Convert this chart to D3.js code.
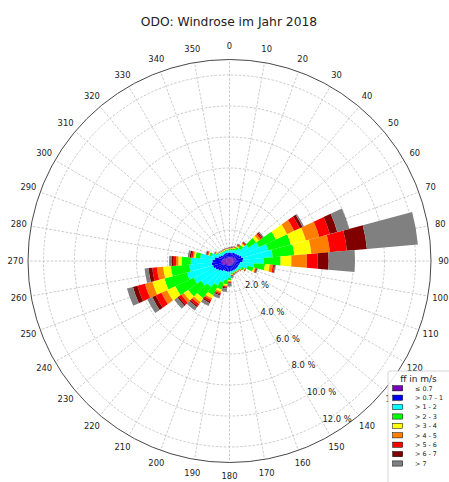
<!DOCTYPE html>
<html>
<head>
<meta charset="utf-8">
<script src="https://cdn.jsdelivr.net/npm/d3@7"></script>
<style>
  body { margin: 0; background: #fff; }
  svg { display: block; font-family: "DejaVu Sans", sans-serif; }
</style>
</head>
<body>
<div id="chart"></div>
<script>
(function () {
  var title = 'ODO: Windrose im Jahr 2018';
  var directions = [0, 10, 20, 30, 40, 50, 60, 70, 80, 90, 100, 110, 120, 130, 140, 150, 160, 170,
                    180, 190, 200, 210, 220, 230, 240, 250, 260, 270, 280, 290, 300, 310, 320, 330, 340, 350];
  var classLabels = ['\u2264 0.7', '> 0.7 - 1', '> 1 - 2', '> 2 - 3', '> 3 - 4', '> 4 - 5', '> 5 - 6', '> 6 - 7', '> 7'];
  var classColors = ['#7400b8', '#0000f0', '#00ffff', '#00ff00', '#ffff00', '#ff8000', '#ff0000', '#800000', '#808080'];
  var radialTicks = [2, 4, 6, 8, 10, 12];

  // frequency in % per direction (0..350) for each wind speed class
  var f_le07 = [0.25, 0.25, 0.25, 0.3, 0.3, 0.3, 0.35, 0.4, 0.4, 0.35, 0.3, 0.3, 0.3, 0.3, 0.3, 0.3, 0.3, 0.3,
                0.3, 0.3, 0.3, 0.3, 0.35, 0.4, 0.45, 0.5, 0.55, 0.5, 0.45, 0.35, 0.3, 0.25, 0.25, 0.25, 0.25, 0.25];
  var f_07_1 = [0.3, 0.3, 0.3, 0.3, 0.3, 0.35, 0.35, 0.4, 0.5, 0.5, 0.4, 0.35, 0.35, 0.35, 0.35, 0.35, 0.35, 0.35,
                0.4, 0.4, 0.4, 0.4, 0.45, 0.5, 0.55, 0.6, 0.6, 0.6, 0.5, 0.4, 0.35, 0.3, 0.3, 0.3, 0.3, 0.3];
  var f_1_2 = [0.15, 0.17, 0.2, 0.25, 0.4, 0.85, 1.4, 1.8, 1.9, 1.35, 0.9, 0.55, 0.25, 0.15, 0.1, 0.1, 0.1, 0.15,
               0.4, 0.55, 0.75, 1.05, 1.25, 1.35, 1.55, 1.75, 1.45, 1.4, 0.95, 0.45, 0.25, 0.2, 0.15, 0.15, 0.15, 0.15];
  var f_2_3 = [0.07, 0.08, 0.1, 0.15, 0.25, 0.6, 1.2, 1.5, 1.4, 1.1, 0.7, 0.4, 0.15, 0.07, 0.05, 0.05, 0.05, 0.07,
               0.15, 0.25, 0.45, 0.7, 0.9, 1.0, 1.3, 1.5, 1.2, 0.6, 0.3, 0.15, 0.07, 0.05, 0.05, 0.05, 0.05, 0.05];
  var f_3_4 = [0.03, 0.03, 0.05, 0.07, 0.1, 0.2, 0.8, 1.0, 1.1, 0.7, 0.3, 0.1, 0.05, 0.03, 0.03, 0.02, 0.02, 0.03,
               0.05, 0.1, 0.15, 0.2, 0.3, 0.35, 0.6, 0.8, 0.5, 0.2, 0.1, 0.05, 0.03, 0.03, 0.03, 0.03, 0.03, 0.03];
  var f_4_5 = [0.02, 0.03, 0.03, 0.05, 0.07, 0.15, 0.5, 0.9, 1.2, 1.0, 0.2, 0.05, 0.03, 0.02, 0.02, 0.02, 0.02, 0.02,
               0.05, 0.05, 0.1, 0.12, 0.15, 0.2, 0.4, 0.5, 0.4, 0.15, 0.08, 0.05, 0.03, 0.02, 0.02, 0.02, 0.02, 0.02];
  var f_5_6 = [0.02, 0.02, 0.03, 0.04, 0.06, 0.1, 0.4, 0.7, 1.1, 0.7, 0.1, 0.05, 0.03, 0.02, 0.02, 0.02, 0.02, 0.03,
               0.05, 0.07, 0.08, 0.13, 0.15, 0.2, 0.4, 0.5, 0.3, 0.15, 0.1, 0.05, 0.03, 0.02, 0.02, 0.02, 0.02, 0.02];
  var f_6_7 = [0.02, 0.02, 0.02, 0.04, 0.04, 0.07, 0.2, 0.5, 1.3, 0.7, 0.05, 0.05, 0.02, 0.01, 0.01, 0.01, 0.02, 0.03,
               0.05, 0.06, 0.07, 0.1, 0.1, 0.1, 0.25, 0.3, 0.25, 0.15, 0.1, 0.05, 0.02, 0.01, 0.01, 0.01, 0.01, 0.01];
  var f_gt7 = [0.04, 0.05, 0.02, 0.05, 0.03, 0.08, 0.1, 0.8, 3.3, 1.7, 0.05, 0.05, 0.02, 0.02, 0.02, 0.03, 0.07, 0.12,
               0.2, 0.22, 0.2, 0.2, 0.25, 0.25, 0.35, 0.4, 0.25, 0.15, 0.12, 0.05, 0.02, 0.02, 0.02, 0.02, 0.02, 0.02];

  var series = [f_le07, f_07_1, f_1_2, f_2_3, f_3_4, f_4_5, f_5_6, f_6_7, f_gt7];

  var W = 449, H = 482;
  var cx = 229.5, cy = 261;
  var rMax = 13;
  var R = 201.5;
  var rad = Math.PI / 180;

  var r = d3.scaleLinear().domain([0, rMax]).range([0, R]);

  var svg = d3.select('#chart').append('svg')
      .attr('width', W)
      .attr('height', H);

  svg.append('text')
      .attr('x', 229)
      .attr('y', 26)
      .attr('text-anchor', 'middle')
      .style('font-size', '12.3px')
      .attr('fill', '#222')
      .text(title);

  var g = svg.append('g')
      .attr('transform', 'translate(' + cx + ',' + cy + ')');

  // grid
  g.selectAll('circle.grid')
      .data(radialTicks)
      .enter().append('circle')
      .attr('r', function (d) { return r(d); })
      .attr('fill', 'none')
      .attr('stroke', '#b4b4b4')
      .attr('stroke-width', 0.7)
      .attr('stroke-dasharray', '2.5,1.6');

  g.selectAll('line.spoke')
      .data(directions)
      .enter().append('line')
      .attr('x1', 0)
      .attr('y1', 0)
      .attr('x2', function (d) { return R * Math.sin(d * rad); })
      .attr('y2', function (d) { return -R * Math.cos(d * rad); })
      .attr('stroke', '#b4b4b4')
      .attr('stroke-width', 0.7)
      .attr('stroke-dasharray', '2.5,1.6');

  // stacked bars
  var keys = classLabels.map(function (c, k) { return 'c' + k; });
  var rows = directions.map(function (d, i) {
    var row = {dir: d};
    keys.forEach(function (key, k) { row[key] = series[k][i]; });
    return row;
  });
  var stacked = d3.stack().keys(keys)(rows);

  var arc = d3.arc()
      .innerRadius(function (d) { return r(d[0]); })
      .outerRadius(function (d) { return r(d[1]); })
      .startAngle(function (d) { return (d.data.dir - 5) * rad; })
      .endAngle(function (d) { return (d.data.dir + 5) * rad; });

  g.selectAll('g.layer')
      .data(stacked)
      .enter().append('g')
      .attr('class', 'layer')
      .attr('fill', function (d, k) { return classColors[k]; })
      .selectAll('path')
      .data(function (d) { return d; })
      .enter().append('path')
      .attr('d', arc);

  // outer ring
  g.append('circle')
      .attr('r', R)
      .attr('fill', 'none')
      .attr('stroke', '#333')
      .attr('stroke-width', 0.9);

  // direction labels
  g.selectAll('text.theta')
      .data(directions)
      .enter().append('text')
      .attr('x', function (d) { return 214 * Math.sin(d * rad); })
      .attr('y', function (d) { return -215 * Math.cos(d * rad); })
      .attr('text-anchor', 'middle')
      .attr('dy', '0.35em')
      .style('font-size', '8.4px')
      .attr('fill', '#222')
      .text(function (d) { return d; });

  // radial labels
  g.selectAll('text.rlab')
      .data(radialTicks)
      .enter().append('text')
      .attr('x', function (d) { return r(d) * Math.sin(150 * rad); })
      .attr('y', function (d) { return -r(d) * Math.cos(150 * rad); })
      .style('font-size', '8.4px')
      .attr('fill', '#222')
      .text(function (d) { return d.toFixed(1) + ' %'; });

  // legend
  var lg = svg.append('g').attr('transform', 'translate(388,371)');
  lg.append('rect')
      .attr('width', 75)
      .attr('height', 120)
      .attr('rx', 2)
      .attr('fill', '#fff')
      .attr('fill-opacity', 0.85)
      .attr('stroke', '#ccc')
      .attr('stroke-width', 0.8);
  lg.append('text')
      .attr('x', 30.5)
      .attr('y', 10.5)
      .attr('text-anchor', 'middle')
      .style('font-size', '9px')
      .attr('fill', '#222')
      .text('ff in m/s');

  var item = lg.selectAll('g.item')
      .data(classLabels)
      .enter().append('g')
      .attr('transform', function (d, k) { return 'translate(0,' + (17.3 + k * 9.4) + ')'; });
  item.append('rect')
      .attr('x', 4.7)
      .attr('y', -2.6)
      .attr('width', 10)
      .attr('height', 5.2)
      .attr('fill', function (d, k) { return classColors[k]; })
      .attr('stroke', '#000')
      .attr('stroke-width', 0.5);
  item.append('text')
      .attr('x', 27)
      .attr('dy', '0.35em')
      .style('font-size', '6.4px')
      .attr('fill', '#222')
      .text(function (d) { return d; });
}());
</script>
</body>
</html>
